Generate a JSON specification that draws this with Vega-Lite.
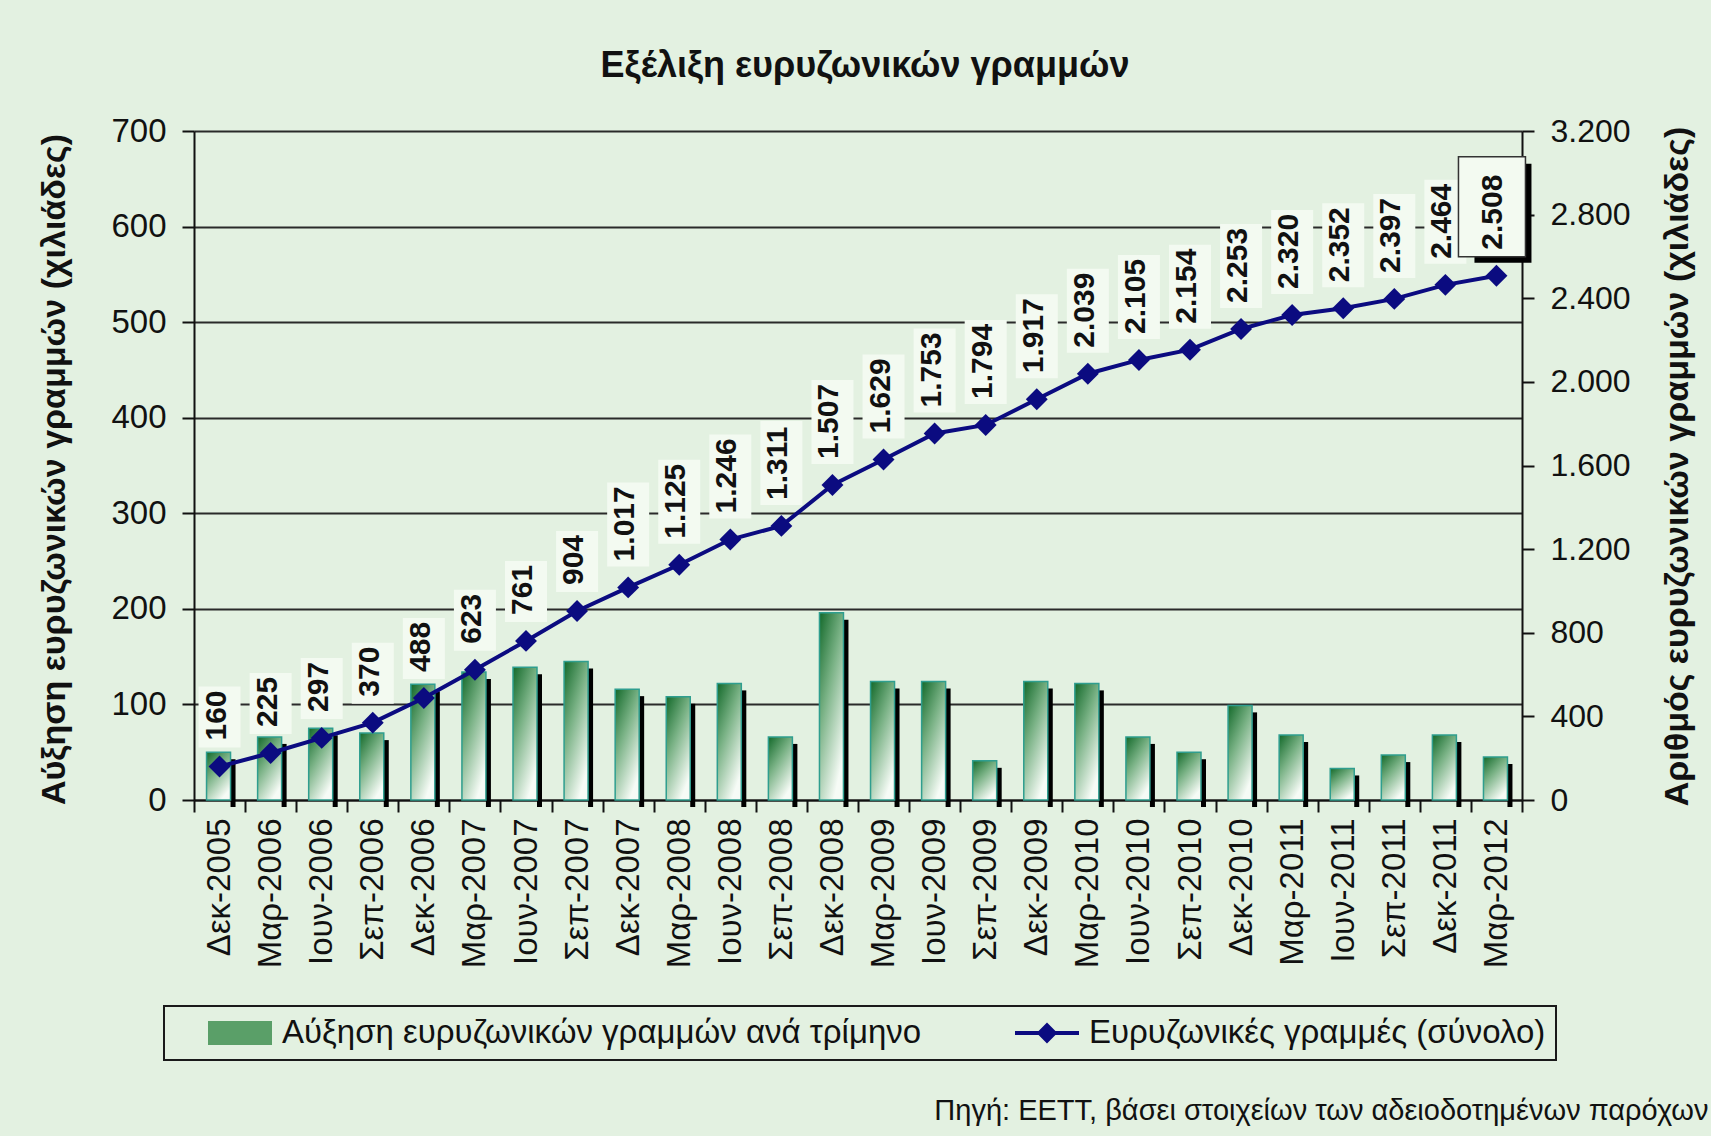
{
  "$schema": "https://vega.github.io/schema/vega-lite/v6.json",
  "autosize": {"type": "none"},
  "padding": {"left": 194, "top": 131, "right": 189, "bottom": 336},
  "width": 1328,
  "height": 669,
  "background": "#e3f1e1",
  "config": {
    "locale": {"number": {"decimal": ",", "thousands": ".", "grouping": [3], "currency": ["", " €"]}},
    "view": {"stroke": null},
    "font": "Liberation Sans",
    "legend": {"strokeWidth": 2},
    "axis": {"labelFont": "Liberation Sans", "titleFont": "Liberation Sans", "labelColor": "#111", "titleColor": "#111", "domainColor": "#111", "tickColor": "#111"}
  },
  "title": {"text": "Εξέλιξη ευρυζωνικών γραμμών", "font": "Liberation Sans", "fontSize": 36, "fontWeight": "bold", "color": "#111", "anchor": "middle", "frame": "group", "offset": 30, "dx": 7},
  "data": {"values": [
    {"period": "Δεκ-2005", "inc": 50, "total": 160},
    {"period": "Μαρ-2006", "inc": 66, "total": 225},
    {"period": "Ιουν-2006", "inc": 75, "total": 297},
    {"period": "Σεπ-2006", "inc": 70, "total": 370},
    {"period": "Δεκ-2006", "inc": 121, "total": 488},
    {"period": "Μαρ-2007", "inc": 134, "total": 623},
    {"period": "Ιουν-2007", "inc": 139, "total": 761},
    {"period": "Σεπ-2007", "inc": 145, "total": 904},
    {"period": "Δεκ-2007", "inc": 116, "total": 1017},
    {"period": "Μαρ-2008", "inc": 108, "total": 1125},
    {"period": "Ιουν-2008", "inc": 122, "total": 1246},
    {"period": "Σεπ-2008", "inc": 66, "total": 1311},
    {"period": "Δεκ-2008", "inc": 196, "total": 1507},
    {"period": "Μαρ-2009", "inc": 124, "total": 1629},
    {"period": "Ιουν-2009", "inc": 124, "total": 1753},
    {"period": "Σεπ-2009", "inc": 41, "total": 1794},
    {"period": "Δεκ-2009", "inc": 124, "total": 1917},
    {"period": "Μαρ-2010", "inc": 122, "total": 2039},
    {"period": "Ιουν-2010", "inc": 66, "total": 2105},
    {"period": "Σεπ-2010", "inc": 50, "total": 2154},
    {"period": "Δεκ-2010", "inc": 99, "total": 2253},
    {"period": "Μαρ-2011", "inc": 68, "total": 2320},
    {"period": "Ιουν-2011", "inc": 33, "total": 2352},
    {"period": "Σεπ-2011", "inc": 47, "total": 2397},
    {"period": "Δεκ-2011", "inc": 68, "total": 2464},
    {"period": "Μαρ-2012", "inc": 45, "total": 2508}
  ]},
  "encoding": {
    "x": {
      "field": "period", "type": "nominal", "sort": null,
      "scale": {"paddingInner": 0, "paddingOuter": 0},
      "axis": {
        "title": "Πηγή: ΕΕΤΤ, βάσει στοιχείων των αδειοδοτημένων παρόχων",
        "titleX": 1514, "titleY": 310, "titleAlign": "right", "titleBaseline": "middle", "titleAngle": 0,
        "titleFontSize": 29, "titleFontWeight": "normal",
        "labelAngle": -90, "labelAlign": "right", "labelBaseline": "middle", "labelFontSize": 33, "labelPadding": 6,
        "tickSize": 12, "tickWidth": 2, "tickBand": "extent", "domainWidth": 2
      }
    }
  },
  "layer": [
    {
      "encoding": {
        "y": {
          "field": "inc", "type": "quantitative",
          "scale": {"domain": [0, 700], "nice": false},
          "axis": {
            "title": "Αύξηση ευρυζωνικών γραμμών (χιλιάδες)", "orient": "left",
            "values": [0, 100, 200, 300, 400, 500, 600, 700],
            "grid": true, "gridColor": "#2a2a2a", "gridWidth": 2,
            "tickSize": 12, "tickWidth": 2, "labelFontSize": 33, "labelPadding": 16, "domainWidth": 2,
            "titleFontSize": 34, "titleFontWeight": "bold", "titleAngle": -90,
            "titleX": -140, "titleY": 338, "titleAlign": "center", "titleBaseline": "middle"
          }
        }
      },
      "layer": [
        {"mark": {"type": "bar", "width": 5, "xOffset": 13.5, "yOffset": 7, "y2Offset": 0, "color": "#000000"}},
        {"mark": {"type": "bar", "width": 24, "xOffset": -1, "stroke": "#2f9e8f", "strokeWidth": 1.5,
          "fill": {"gradient": "linear", "x1": 0, "y1": 0, "x2": 0.6, "y2": 1,
            "stops": [{"offset": 0, "color": "#13692a"}, {"offset": 0.45, "color": "#78b184"}, {"offset": 1, "color": "#f6fbf6"}]}}}
      ]
    },
    {
      "encoding": {
        "y": {
          "field": "total", "type": "quantitative",
          "scale": {"domain": [0, 3200], "nice": false},
          "axis": {
            "title": "Αριθμός ευρυζωνικών γραμμών (χιλιάδες)", "orient": "right",
            "values": [0, 400, 800, 1200, 1600, 2000, 2400, 2800, 3200], "format": ",d",
            "grid": false, "tickSize": 12, "tickWidth": 2, "labelFontSize": 32, "labelPadding": 16, "domainWidth": 2,
            "titleFontSize": 34, "titleFontWeight": "bold", "titleAngle": -90,
            "titleX": 155, "titleY": 335, "titleAlign": "center", "titleBaseline": "middle"
          }
        }
      },
      "layer": [
        {
          "transform": [{"filter": "datum.total < 1000"}],
          "mark": {"type": "point", "shape": "M-21,-19L21,-19L21,-80L-21,-80Z", "size": 4, "filled": true, "opacity": 1, "color": "#f3faf1"}
        },
        {
          "transform": [{"filter": "datum.total >= 1000 && datum.period !== 'Μαρ-2012'"}],
          "mark": {"type": "point", "shape": "M-21,-21L21,-21L21,-105L-21,-105Z", "size": 4, "filled": true, "opacity": 1, "color": "#f3faf1"}
        },
        {
          "transform": [{"filter": "datum.period === 'Μαρ-2012'"}],
          "mark": {"type": "point", "shape": "M-22,-112L35,-112L35,-13L-22,-13Z", "size": 4, "filled": true, "opacity": 1, "color": "#000000"}
        },
        {
          "transform": [{"filter": "datum.period === 'Μαρ-2012'"}],
          "mark": {"type": "point", "shape": "M-38,-119L29,-119L29,-19L-38,-19Z", "size": 4, "filled": true, "opacity": 1, "fill": "#f3faf1", "stroke": "#333333", "strokeWidth": 1.5}
        },
        {
          "mark": {"type": "line", "strokeWidth": 4, "color": "#0b0b80"}
        },
        {
          "mark": {"type": "point", "shape": "diamond", "filled": true, "size": 480, "opacity": 1, "color": "#0b0b80"}
        },
        {
          "mark": {"type": "text", "angle": -90, "align": "left", "baseline": "middle", "dx": 26, "dy": -3, "font": "Liberation Sans", "fontSize": 30, "fontWeight": "bold", "color": "#111"},
          "encoding": {"text": {"field": "total", "type": "quantitative", "format": ",d"}}
        },
        {
          "mark": {"type": "point", "filled": true, "opacity": 0, "size": 1},
          "encoding": {
            "color": {
              "datum": "Ευρυζωνικές γραμμές (σύνολο)",
              "scale": {"domain": ["Αύξηση ευρυζωνικών γραμμών ανά  τρίμηνο", "Ευρυζωνικές γραμμές (σύνολο)"], "range": ["#5a9f68", "#0b0b80"]},
              "legend": {
                "orient": "none", "legendX": -30, "legendY": 875, "direction": "horizontal", "title": null,
                "padding": 10, "strokeColor": "#1a1a1a",
                "labelFont": "Liberation Sans", "labelFontSize": 33, "labelColor": "#111", "labelLimit": 0,
                "labelOffset": 25, "symbolOffset": 49, "symbolSize": 1024, "symbolOpacity": 1, "columnPadding": 50
              }
            },
            "shape": {
              "datum": "Ευρυζωνικές γραμμές (σύνολο)",
              "scale": {"domain": ["Αύξηση ευρυζωνικών γραμμών ανά  τρίμηνο", "Ευρυζωνικές γραμμές (σύνολο)"], "range": ["M-2,-0.75L2,-0.75L2,0.75L-2,0.75Z", "M-2,-0.12L2,-0.12L2,0.12L-2,0.12ZM0,-0.65L0.65,0L0,0.65L-0.65,0Z"]},
              "legend": {
                "orient": "none", "legendX": -30, "legendY": 875, "direction": "horizontal", "title": null,
                "padding": 10, "strokeColor": "#1a1a1a",
                "labelFont": "Liberation Sans", "labelFontSize": 33, "labelColor": "#111", "labelLimit": 0,
                "labelOffset": 25, "symbolOffset": 49, "symbolSize": 1024, "symbolOpacity": 1, "columnPadding": 50
              }
            }
          }
        }
      ]
    }
  ],
  "resolve": {"scale": {"y": "independent"}}
}
